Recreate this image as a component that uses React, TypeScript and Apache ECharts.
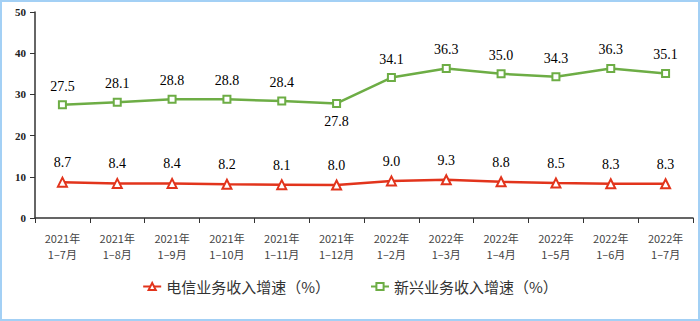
import React, { useEffect, useRef } from "react";
import * as echarts from "echarts";

const categories = [
  "2021年\n1–7月", "2021年\n1–8月", "2021年\n1–9月", "2021年\n1–10月", "2021年\n1–11月", "2021年\n1–12月",
  "2022年\n1–2月", "2022年\n1–3月", "2022年\n1–4月", "2022年\n1–5月", "2022年\n1–6月", "2022年\n1–7月",
];
const telecomGrowth = [8.7, 8.4, 8.4, 8.2, 8.1, 8.0, 9.0, 9.3, 8.8, 8.5, 8.3, 8.3];
const emergingGrowth = [27.5, 28.1, 28.8, 28.8, 28.4, 27.8, 34.1, 36.3, 35.0, 34.3, 36.3, 35.1];

export default function App() {
  const ref = useRef<HTMLDivElement>(null);
  useEffect(() => {
    const chart = echarts.init(ref.current!, null, { renderer: "svg" });
    const labelStyle = {
      show: true,
      position: "top" as const,
      distance: 7,
      fontFamily: "Liberation Serif, Times New Roman, serif",
      fontSize: 14,
      color: "#000",
      formatter: (p: any) => Number(p.value).toFixed(1),
    };
    chart.setOption({
      animation: false,
      grid: { left: 33, right: 5, top: 10, bottom: 101 },
      legend: {
        bottom: 20,
        left: "center",
        itemGap: 40,
        itemWidth: 18,
        itemHeight: 9,
        textStyle: { fontFamily: "Noto Sans CJK SC, sans-serif", fontSize: 15, color: "#333" },
        data: ["电信业务收入增速（%）", "新兴业务收入增速（%）"],
      },
      xAxis: {
        type: "category",
        data: categories,
        boundaryGap: true,
        axisLine: { lineStyle: { color: "#333", width: 1.5 } },
        axisTick: { show: true, length: 5, lineStyle: { color: "#333" } },
        axisLabel: {
          interval: 0,
          fontFamily: "Noto Sans CJK SC, sans-serif",
          fontSize: 11,
          color: "#444",
          lineHeight: 16,
          margin: 12,
          align: "center",
        },
      },
      yAxis: {
        type: "value",
        min: 0,
        max: 50,
        interval: 10,
        splitLine: { show: false },
        axisLine: { show: true, lineStyle: { color: "#333", width: 1.5 } },
        axisTick: { show: true, length: 5, lineStyle: { color: "#333" } },
        axisLabel: {
          fontFamily: "Liberation Serif, Times New Roman, serif",
          fontWeight: "bold",
          fontSize: 11,
          color: "#222",
          margin: 9,
        },
      },
      series: [
        {
          name: "电信业务收入增速（%）",
          type: "line",
          data: telecomGrowth,
          symbol: "triangle",
          symbolSize: 9,
          itemStyle: { color: "#fff", borderColor: "#e2341c", borderWidth: 2 },
          lineStyle: { color: "#e2341c", width: 2.5 },
          label: labelStyle,
        },
        {
          name: "新兴业务收入增速（%）",
          type: "line",
          data: emergingGrowth.map((v, i) =>
            i === 5 ? { value: v, label: { position: "bottom", distance: 7 } } : v
          ),
          symbol: "rect",
          symbolSize: 7,
          itemStyle: { color: "#fff", borderColor: "#6dad45", borderWidth: 2 },
          lineStyle: { color: "#6dad45", width: 2.5 },
          label: labelStyle,
        },
      ],
    });
    return () => chart.dispose();
  }, []);
  return (
    <div
      style={{
        position: "fixed",
        left: 0,
        top: 0,
        width: 700,
        height: 321,
        boxSizing: "border-box",
        border: "2px solid #a3d0f5",
        background: "#fff",
      }}
    >
      <div ref={ref} style={{ width: 696, height: 317 }} />
    </div>
  );
}
